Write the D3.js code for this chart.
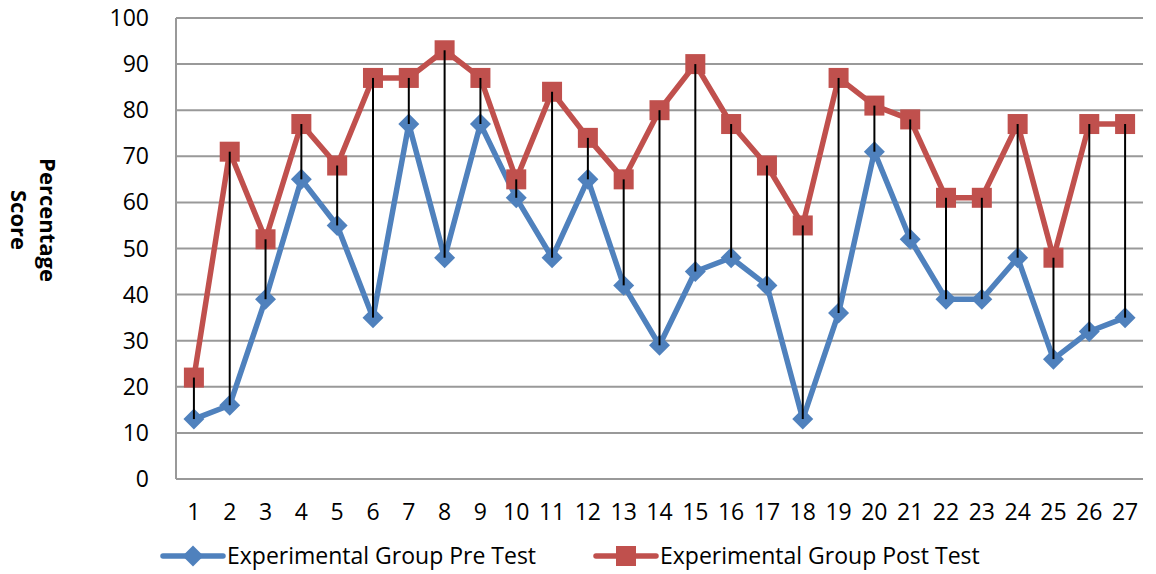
<!DOCTYPE html>
<html>
<head>
<meta charset="utf-8">
<script src="https://cdn.jsdelivr.net/npm/d3@7"></script>
<style>
  body { margin: 0; background: #fff; }
  text { font-family: "Open Sans", "Noto Sans", sans-serif; fill: #000; }
</style>
</head>
<body>
<div id="chart"></div>
<script>
// data
const students = d3.range(1, 28).map(String);
const preTest = [13, 16, 39, 65, 55, 35, 77, 48, 77, 61, 48, 65, 42, 29, 45, 48, 42, 13, 36, 71, 52, 39, 39, 48, 26, 32, 35];
const postTest = [22, 71, 52, 77, 68, 87, 87, 93, 87, 65, 84, 74, 65, 80, 90, 77, 68, 55, 87, 81, 78, 61, 61, 77, 48, 77, 77];
const yTicks = [0, 10, 20, 30, 40, 50, 60, 70, 80, 90, 100];
const seriesNames = ["Experimental Group Pre Test", "Experimental Group Post Test"];

const blue = "#4F81BD", red = "#C0504D";

const width = 1156, height = 574;
const margin = { top: 18, right: 13, bottom: 95, left: 176 };
const innerW = width - margin.left - margin.right;
const innerH = height - margin.top - margin.bottom;

const svg = d3.select("#chart").append("svg")
    .attr("width", width)
    .attr("height", height);

const g = svg.append("g")
    .attr("transform", "translate(" + margin.left + "," + margin.top + ")");

const x = d3.scaleBand().domain(students).range([0, innerW]);
const y = d3.scaleLinear().domain([0, 100]).range([innerH, 0]);
const cx = d => x(d) + x.bandwidth() / 2;

// gridlines
g.append("g")
    .selectAll("line")
    .data(yTicks)
    .enter().append("line")
    .attr("x1", 0).attr("x2", innerW)
    .attr("y1", d => y(d)).attr("y2", d => y(d))
    .attr("stroke", "#999").attr("stroke-width", 2);

// left axis line
g.append("line")
    .attr("x1", 0).attr("x2", 0)
    .attr("y1", 0).attr("y2", innerH)
    .attr("stroke", "#999").attr("stroke-width", 2);

// y tick labels
g.append("g")
    .selectAll("text")
    .data(yTicks)
    .enter().append("text")
    .attr("x", -27)
    .attr("y", d => y(d))
    .attr("dy", "0.35em")
    .attr("text-anchor", "end")
    .style("font-size", "23px")
    .text(d => d);

// x tick labels
g.append("g")
    .selectAll("text")
    .data(students)
    .enter().append("text")
    .attr("x", d => cx(d))
    .attr("y", innerH + 41)
    .attr("text-anchor", "middle")
    .style("font-size", "23px")
    .text(d => d);

// y label
svg.append("text")
    .attr("transform", "translate(34,220) rotate(90)")
    .attr("text-anchor", "middle")
    .style("font-size", "22px")
    .style("font-weight", "bold")
    .selectAll("tspan")
    .data(["Percentage", "Score"])
    .enter().append("tspan")
    .attr("x", 0)
    .attr("dy", (d, i) => i === 0 ? "-0.25em" : "1.3em")
    .text(d => d);

const line = d3.line()
    .x((d, i) => cx(students[i]))
    .y(d => y(d));

// series lines
g.append("path").datum(preTest)
    .attr("fill", "none").attr("stroke", blue).attr("stroke-width", 5.5)
    .attr("stroke-linejoin", "round")
    .attr("d", line);
g.append("path").datum(postTest)
    .attr("fill", "none").attr("stroke", red).attr("stroke-width", 5.5)
    .attr("stroke-linejoin", "round")
    .attr("d", line);

// markers
const diamond = d3.symbol().type(d3.symbolSquare).size(220);
g.append("g")
    .selectAll("path")
    .data(preTest)
    .enter().append("path")
    .attr("d", diamond)
    .attr("transform", (d, i) => "translate(" + cx(students[i]) + "," + y(d) + ") rotate(45)")
    .attr("fill", blue);

g.append("g")
    .selectAll("rect")
    .data(postTest)
    .enter().append("rect")
    .attr("x", (d, i) => cx(students[i]) - 10)
    .attr("y", d => y(d) - 10)
    .attr("width", 20).attr("height", 20)
    .attr("fill", red);

// drop lines from post to pre
g.append("g")
    .selectAll("line")
    .data(students)
    .enter().append("line")
    .attr("x1", d => cx(d)).attr("x2", d => cx(d))
    .attr("y1", (d, i) => y(postTest[i]))
    .attr("y2", (d, i) => y(preTest[i]))
    .attr("stroke", "#000").attr("stroke-width", 2);

// legend
const legend = svg.append("g").attr("transform", "translate(0,556)");
const legendItems = [
    { name: seriesNames[0], color: blue, x: 163, shape: "diamond" },
    { name: seriesNames[1], color: red, x: 596, shape: "square" }
];
legendItems.forEach(item => {
    const lg = legend.append("g").attr("transform", "translate(" + item.x + ",0)");
    lg.append("line")
        .attr("x1", 0).attr("x2", 60)
        .attr("stroke", item.color).attr("stroke-width", 5.5)
        .attr("stroke-linecap", "round");
    if (item.shape === "diamond") {
        lg.append("path").attr("d", diamond)
            .attr("transform", "translate(30,0) rotate(45)")
            .attr("fill", item.color);
    } else {
        lg.append("rect").attr("x", 20).attr("y", -10)
            .attr("width", 20).attr("height", 20)
            .attr("fill", item.color);
    }
    lg.append("text")
        .attr("x", 64).attr("dy", "0.35em")
        .style("font-size", "23px")
        .text(item.name);
});
</script>
</body>
</html>
